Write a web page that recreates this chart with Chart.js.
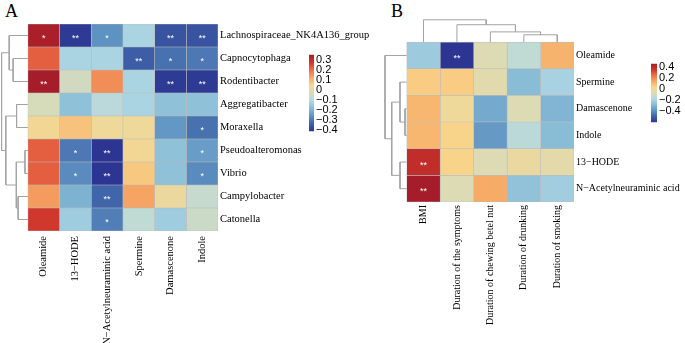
<!DOCTYPE html>
<html>
<head>
<meta charset="utf-8">
<script src="https://cdn.jsdelivr.net/npm/chart.js@4/dist/chart.umd.min.js"></script>
<style>
  body { margin: 0; background: #fff; }
  #wrap { position: relative; width: 685px; height: 343px; overflow: hidden; background: #fff; }
  canvas { position: absolute; }
  .tag { position: absolute; font-family: 'Liberation Serif', serif; font-size: 18px; line-height: 18px; }
</style>
</head>
<body>
<div id="wrap">
  <div class="tag" style="left:5px;top:2px">A</div>
  <div class="tag" style="left:391px;top:2px">B</div>
  <canvas id="heatA" width="372" height="343" style="left:0;top:0"></canvas>
  <canvas id="barA" width="35" height="94" style="left:309px;top:46px"></canvas>
  <canvas id="heatB" width="305" height="343" style="left:380px;top:0"></canvas>
  <canvas id="barB" width="34" height="76" style="left:651px;top:55px"></canvas>
</div>
<script>
// panel A: bacteria vs metabolites
const colsA = ['Oleamide', '13\u2212HODE', 'N\u2212Acetylneuraminic acid', 'Spermine', 'Damascenone', 'Indole'];
const rowsA = ['Lachnospiraceae_NK4A136_group', 'Capnocytophaga', 'Rodentibacter', 'Aggregatibacter', 'Moraxella',
  'Pseudoalteromonas', 'Vibrio', 'Campylobacter', 'Catonella'];
const valuesA = [
  [0.34, -0.40, -0.26, -0.12, -0.36, -0.36],
  [0.22, -0.12, -0.12, -0.34, -0.31, -0.30],
  [0.35, -0.05, 0.16, -0.12, -0.40, -0.40],
  [-0.04, -0.17, -0.09, -0.12, -0.17, -0.17],
  [0.03, 0.08, 0.02, 0.02, -0.25, -0.31],
  [0.22, -0.30, -0.41, 0.03, -0.17, -0.24],
  [0.22, -0.27, -0.41, 0.07, -0.17, -0.27],
  [0.14, -0.20, -0.33, 0.13, 0.01, -0.07],
  [0.27, -0.14, -0.29, -0.08, -0.14, -0.06]
];
const starsA = [
  ['*', '**', '*', '', '**', '**'],
  ['', '', '', '**', '*', '*'],
  ['**', '', '', '', '**', '**'],
  ['', '', '', '', '', ''],
  ['', '', '', '', '', '*'],
  ['', '*', '**', '', '', '*'],
  ['', '*', '**', '', '', '*'],
  ['', '', '**', '', '', ''],
  ['', '', '*', '', '', '']
];
// hclust style merges: negative = leaf, positive = earlier merge, then height
const rowTreeA = [[-2, -3, 0.56], [-1, 1, 0.71], [-4, -5, 0.43], [-6, -7, 0.11], [-8, -9, 0.37], [4, 5, 0.44], [3, 6, 0.84], [2, 7, 1.0]];
const rangeA = [-0.41, 0.35];
const legendTicksA = [0.3, 0.2, 0.1, 0, -0.1, -0.2, -0.3, -0.4];

// panel B: metabolites vs clinical factors
const colsB = ['BMI', 'Duration of the symptoms', 'Duration of chewing betel nut', 'Duration of drunking', 'Duration of smoking'];
const rowsB = ['Oleamide', 'Spermine', 'Damascenone', 'Indole', '13\u2212HODE', 'N\u2212Acetylneuraminic acid'];
const valuesB = [
  [-0.23, -0.60, -0.07, -0.14, 0.12],
  [0.06, 0.06, -0.05, -0.28, -0.20],
  [0.11, 0.00, -0.33, -0.07, -0.30],
  [0.11, 0.04, -0.37, -0.15, -0.28],
  [0.39, 0.04, -0.07, -0.02, -0.04],
  [0.46, -0.07, 0.14, -0.26, -0.22]
];
const starsB = [
  ['', '**', '', '', ''],
  ['', '', '', '', ''],
  ['', '', '', '', ''],
  ['', '', '', '', ''],
  ['**', '', '', '', ''],
  ['**', '', '', '', '']
];
const rowTreeB = [[-3, -4, 0.08], [-2, 1, 0.31], [-5, -6, 0.31], [2, 3, 0.69], [-1, 4, 1.0]];
const colTreeB = [[-4, -5, 0.33], [-3, 1, 0.46], [-2, 2, 0.78], [-1, 3, 1.0]];
const rangeB = [-0.6, 0.46];
const legendTicksB = [0.4, 0.2, 0, -0.2, -0.4];

const palette = ['#2c3592', '#3e62a8', '#5f93c2', '#88bcd6', '#b2d9e5', '#dcdbb4',
  '#f8d68c', '#f6aa66', '#ec7048', '#d0352b', '#a51c2a'];

function hexRgb(h) {
  const n = parseInt(h.slice(1), 16);
  return [n >> 16, (n >> 8) & 255, n & 255];
}

function colorFor(v, range) {
  const t = Math.max(0, Math.min(1, (v - range[0]) / (range[1] - range[0])));
  const pos = t * (palette.length - 1);
  const i = Math.min(Math.floor(pos), palette.length - 2);
  const f = pos - i;
  const a = hexRgb(palette[i]), b = hexRgb(palette[i + 1]);
  return 'rgb(' + a.map((c, k) => Math.round(c + (b[k] - c) * f)).join(',') + ')';
}

const fmt = v => v === 0 ? '0' : (v < 0 ? '\u2212' : '') + Math.abs(v).toFixed(1);

// turns merge rows into elbow polylines of [height, leafPosition]
function treeSegments(merge) {
  const nodes = [];
  const at = k => k < 0 ? { p: -k - 0.5, h: 0 } : nodes[k - 1];
  return merge.map(([a, b, h]) => {
    const l = at(a), r = at(b);
    nodes.push({ p: (l.p + r.p) / 2, h });
    return [[l.h, l.p], [h, l.p], [h, r.p], [r.h, r.p]];
  });
}

const treeLine = pts => ({
  type: 'line', data: pts, borderColor: '#a3a3a3', borderWidth: 1,
  pointRadius: 0, fill: false, tension: 0
});

function starPlugin(stars) {
  return {
    id: 'stars',
    afterDatasetsDraw(chart) {
      const { ctx, scales: { x, y } } = chart;
      ctx.save();
      ctx.fillStyle = '#fff';
      ctx.font = '9px "Liberation Sans"';
      ctx.textAlign = 'center';
      ctx.textBaseline = 'middle';
      stars.forEach((row, i) => row.forEach((m, j) => {
        if (m) ctx.fillText(m, x.getPixelForValue(j + 0.5), y.getPixelForValue(i + 0.5) + 3);
      }));
      ctx.restore();
    }
  };
}

function drawHeatmap(id, o) {
  const datasets = o.cols.map((c, j) => ({
    type: 'bar', indexAxis: 'y', grouped: false,
    data: o.values.map((row, i) => ({ x: [j, j + 1], y: i + 0.5 })),
    backgroundColor: o.values.map(row => colorFor(row[j], o.range)),
    borderColor: '#bcbcbc', borderWidth: 0.6, borderSkipped: false,
    barPercentage: 1, categoryPercentage: 1
  }));
  treeSegments(o.rowTree).forEach(seg =>
    datasets.push(treeLine(seg.map(([h, p]) => ({ x: -h * o.rowTreeSize, y: p })))));
  if (o.colTree) {
    treeSegments(o.colTree).forEach(seg =>
      datasets.push(treeLine(seg.map(([h, p]) => ({ x: p, y: -h * o.colTreeSize })))));
  }

  new Chart(document.getElementById(id), {
    type: 'scatter',
    data: { datasets },
    options: {
      responsive: false, animation: false, devicePixelRatio: 1,
      layout: { padding: o.padding },
      plugins: { legend: { display: false }, tooltip: { enabled: false } },
      scales: {
        x: {
          type: 'linear', min: o.xMin, max: o.cols.length, offset: false,
          grid: { display: false, drawTicks: false }, border: { display: false },
          afterBuildTicks: s => { s.ticks = o.cols.map((_, j) => ({ value: j + 0.5 })); },
          afterFit: s => { s.height = o.xAxisHeight; },
          ticks: {
            autoSkip: false, minRotation: 90, maxRotation: 90, padding: o.xPad, color: '#000',
            font: { family: 'Liberation Serif', size: o.colFont },
            callback: (v, i) => o.cols[i]
          }
        },
        y: {
          type: 'linear', position: 'right', reverse: true, min: o.yMin, max: o.rows.length, offset: false,
          grid: { display: false, drawTicks: false }, border: { display: false },
          afterBuildTicks: s => { s.ticks = o.rows.map((_, i) => ({ value: i + 0.5 })); },
          afterFit: s => { s.width = o.yAxisWidth; },
          ticks: {
            autoSkip: false, padding: o.yPad, color: '#000',
            font: { family: 'Liberation Serif', size: o.rowFont },
            callback: (v, i) => o.rows[i]
          }
        }
      }
    },
    plugins: [starPlugin(o.stars)]
  });
}

function drawLegend(id, range, ticks, axisWidth, pad) {
  new Chart(document.getElementById(id), {
    type: 'bar',
    data: {
      labels: [''],
      datasets: [{
        data: [range],
        backgroundColor: ctx => {
          const area = ctx.chart.chartArea;
          if (!area) return palette[5];
          const g = ctx.chart.ctx.createLinearGradient(0, area.bottom, 0, area.top);
          palette.forEach((c, i) => g.addColorStop(i / (palette.length - 1), c));
          return g;
        },
        barPercentage: 1, categoryPercentage: 1, borderWidth: 0, inflateAmount: 0
      }]
    },
    options: {
      responsive: false, animation: false, devicePixelRatio: 1,
      layout: { padding: { top: pad, bottom: pad } },
      plugins: { legend: { display: false }, tooltip: { enabled: false } },
      scales: {
        x: { display: false },
        y: {
          position: 'right', min: range[0], max: range[1],
          grid: { display: false, drawTicks: false }, border: { display: false },
          afterBuildTicks: s => { s.ticks = ticks.map(v => ({ value: v })); },
          afterFit: s => { s.width = axisWidth; },
          ticks: {
            autoSkip: false, padding: 2, color: '#000',
            font: { family: 'Liberation Sans', size: 11 },
            callback: v => fmt(v)
          }
        }
      }
    }
  });
}

drawHeatmap('heatA', {
  rows: rowsA, cols: colsA, values: valuesA, stars: starsA, range: rangeA,
  rowTree: rowTreeA, colTree: null, rowTreeSize: 0.83, colTreeSize: 0,
  xMin: -0.88, yMin: 0, padding: { top: 24, left: 0 },
  xAxisHeight: 112, yAxisWidth: 154, xPad: 5, yPad: 2, rowFont: 10.5, colFont: 10.5
});
drawLegend('barA', rangeA, legendTicksA, 30, 8);

drawHeatmap('heatB', {
  rows: rowsB, cols: colsB, values: valuesB, stars: starsB, range: rangeB,
  rowTree: rowTreeB, colTree: colTreeB, rowTreeSize: 0.65, colTreeSize: 0.84,
  xMin: -0.68, yMin: -0.87, padding: { top: 19, left: 4 },
  xAxisHeight: 141, yAxisWidth: 111, xPad: 3, yPad: 2, rowFont: 10, colFont: 10
});
drawLegend('barB', rangeB, legendTicksB, 28, 8);
</script>
</body>
</html>
